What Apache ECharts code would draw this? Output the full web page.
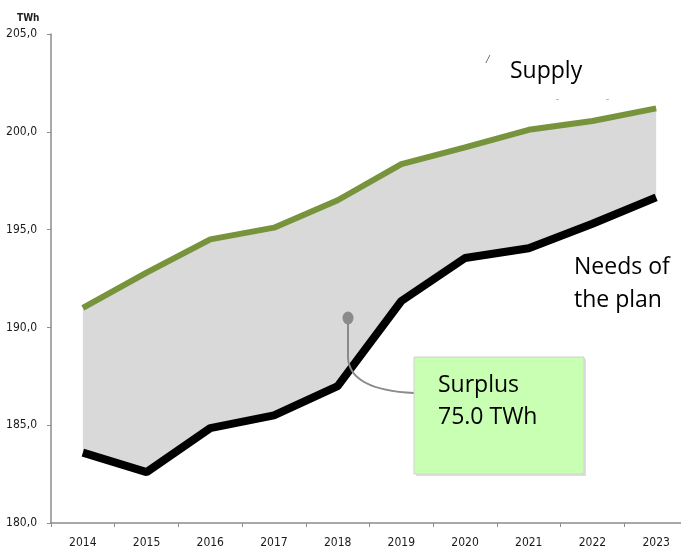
<!DOCTYPE html>
<html>
<head>
<meta charset="utf-8">
<script src="https://cdn.jsdelivr.net/npm/echarts@6/dist/echarts.min.js"></script>
<style>
html,body{margin:0;padding:0;background:#fff;}
#chart{width:681px;height:554px;}
</style>
</head>
<body>
<div id="chart"></div>
<script>
const years = ['2014','2015','2016','2017','2018','2019','2020','2021','2022','2023'];
const supply = [191.0, 192.8, 194.5, 195.1, 196.5, 198.35, 199.2, 200.1, 200.55, 201.2];
const needs = [183.6, 182.6, 184.85, 185.5, 187.0, 191.35, 193.55, 194.05, 195.3, 196.65];
const yTicks = [180, 185, 190, 195, 200, 205];

const gap = supply.map((v, i) => +(v - needs[i]).toFixed(3));

const chart = echarts.init(document.getElementById('chart'), null, {renderer: 'canvas'});
const bigFont = '"Open Sans", "Liberation Sans", sans-serif';
const smallFont = '"Liberation Sans Narrow", "DejaVu Sans Condensed", "Liberation Sans", Arial, sans-serif';

chart.setOption({
  animation: false,
  backgroundColor: '#fff',
  grid: {left: 51, top: 34, bottom: 31, right: -7, containLabel: false, outerBoundsMode: 'none'},
  xAxis: {
    type: 'category',
    data: years,
    boundaryGap: true,
    axisLine: {lineStyle: {color: '#8c8c8c', width: 1.5}},
    axisTick: {show: true, length: 4, lineStyle: {color: '#8c8c8c'}},
    axisLabel: {color: '#1a1a1a', fontSize: 12, fontFamily: smallFont, margin: 14}
  },
  yAxis: {
    type: 'value',
    min: yTicks[0],
    max: yTicks[yTicks.length - 1],
    interval: 5,
    splitLine: {show: false},
    axisLine: {show: true, lineStyle: {color: '#8c8c8c', width: 1.5}},
    axisTick: {show: true, length: 4, lineStyle: {color: '#8c8c8c'}},
    axisLabel: {
      color: '#1a1a1a', fontSize: 12, fontFamily: smallFont, margin: 14,
      formatter: v => v.toFixed(1).replace('.', ',')
    }
  },
  series: [
    {
      name: 'base', type: 'line', stack: 'band', data: needs,
      symbol: 'none', lineStyle: {opacity: 0}, silent: true, z: 1
    },
    {
      name: 'Surplus', type: 'line', stack: 'band', data: gap,
      symbol: 'none', lineStyle: {opacity: 0}, silent: true,
      areaStyle: {color: '#d9d9d9', opacity: 1}, z: 1
    },
    {
      name: 'Supply', type: 'line', data: supply, symbol: 'none',
      lineStyle: {color: '#77933c', width: 6}, z: 3
    },
    {
      name: 'Needs of the plan', type: 'line', data: needs, symbol: 'none',
      lineStyle: {color: '#000000', width: 8}, z: 4
    }
  ],
  graphic: [
    {type: 'text', x: 17, y: 13, style: {text: 'TWh', font: 'bold 10px ' + smallFont, fill: '#222'}},
    {type: 'text', x: 510, y: 60, style: {text: 'Supply', font: '23px ' + bigFont, fill: '#000'}},
    {type: 'text', x: 486, y: 54, style: {text: '/', font: 'italic 12px "Liberation Serif", serif', fill: '#1a1a40'}},
    {type: 'rect', shape: {x: 556, y: 99, width: 3, height: 1}, style: {fill: '#bbb'}},
    {type: 'rect', shape: {x: 606, y: 99, width: 3, height: 1}, style: {fill: '#bbb'}},
    {type: 'text', x: 574, y: 251, style: {text: 'Needs of\nthe plan', font: '23px ' + bigFont, lineHeight: 33, fill: '#000'}},
    {type: 'line', shape: {x1: 348, y1: 323, x2: 348, y2: 358}, style: {stroke: '#8a8a8a', lineWidth: 2}, z: 10},
    {type: 'bezierCurve', shape: {x1: 348, y1: 358, cpx1: 350, cpy1: 390, x2: 414, y2: 393}, style: {stroke: '#8a8a8a', lineWidth: 2, fill: null}, z: 10},
    {type: 'circle', x: 348, y: 318, scaleY: 1.18, shape: {cx: 0, cy: 0, r: 5.5}, style: {fill: '#8a8a8a'}, z: 10},
    {type: 'rect', shape: {x: 416, y: 359, width: 170, height: 117}, style: {fill: '#e0e0e0'}, z: 10},
    {type: 'rect', shape: {x: 414, y: 357, width: 170, height: 117}, style: {fill: '#c9ffb3', stroke: '#d0d0d0', lineWidth: 1}, z: 11},
    {type: 'text', x: 438, y: 369, style: {text: 'Surplus\n75.0 TWh', font: '23px ' + bigFont, lineHeight: 32, fill: '#000'}, z: 12}
  ]
});
</script>
</body>
</html>
